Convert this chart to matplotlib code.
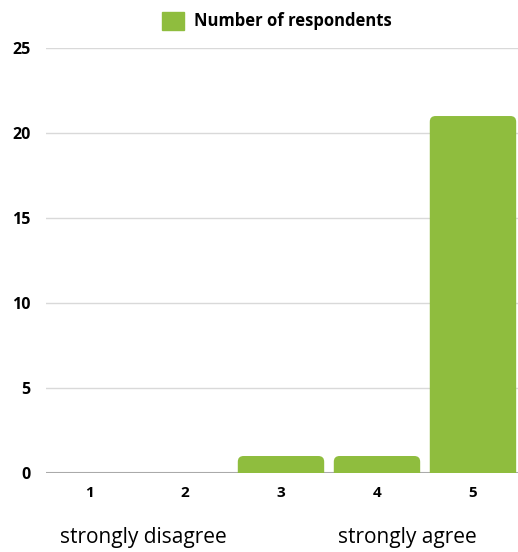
import matplotlib.pyplot as plt
from matplotlib.patches import FancyBboxPatch

plt.rcParams['font.family'] = ['Open Sans', 'DejaVu Sans']

# Data
categories = ['1', '2', '3', '4', '5']
respondents = [0, 0, 1, 1, 21]
series_name = 'Number of respondents'
green = '#8fbd3e'

fig = plt.figure(figsize=(5.18, 5.52), dpi=100)
ax = fig.add_axes([0.0888, 0.1431, 0.9112, 0.7699])

pos = list(range(1, len(categories) + 1))
bars = ax.bar(pos, respondents, width=0.9, color=green, label=series_name, zorder=3)

# round the top corners: swap each bar for a rounded box that starts below 0 (clipped)
for b in bars:
    if b.get_height() <= 0:
        b.set_visible(False)
        continue
    x, w, h = b.get_x(), b.get_width(), b.get_height()
    rb = FancyBboxPatch((x, -1), w, h + 1,
                        boxstyle='round,pad=0,rounding_size=0.06',
                        mutation_aspect=96 / 17, facecolor=green,
                        edgecolor='none', zorder=3, clip_on=True)
    ax.add_patch(rb)
    b.set_visible(False)

ax.set_xlim(0.552, 5.469)
ax.set_ylim(0, 25)
ax.set_xticks(pos)
ax.set_xticklabels(categories, fontweight='bold', fontsize=11)
ax.set_yticks([0, 5, 10, 15, 20, 25])
ax.set_yticklabels(['0', '5', '10', '15', '20', '25'], fontweight='bold', fontsize=11.5)
ax.tick_params(length=0)
ax.tick_params(axis='x', pad=9)
ax.tick_params(axis='y', pad=11)

for s in ax.spines.values():
    s.set_visible(False)
ax.yaxis.grid(True, color='#d9d9d9', linewidth=1, zorder=0)
ax.axhline(0, color='#aaaaaa', linewidth=1.5, zorder=2)

fig.text(0.276, 0.027, 'strongly disagree', ha='center', va='center', fontsize=15)
fig.text(0.786, 0.027, 'strongly agree', ha='center', va='center', fontsize=15)

fig.legend(handles=[plt.Rectangle((0, 0), 1, 1, color=green)], labels=[series_name],
           loc='center', bbox_to_anchor=(0.535, 0.962), frameon=False,
           prop={'weight': 'bold', 'size': 12}, handlelength=1.3, handleheight=1.3,
           handletextpad=0.6)

plt.savefig('out.png', dpi=100)
